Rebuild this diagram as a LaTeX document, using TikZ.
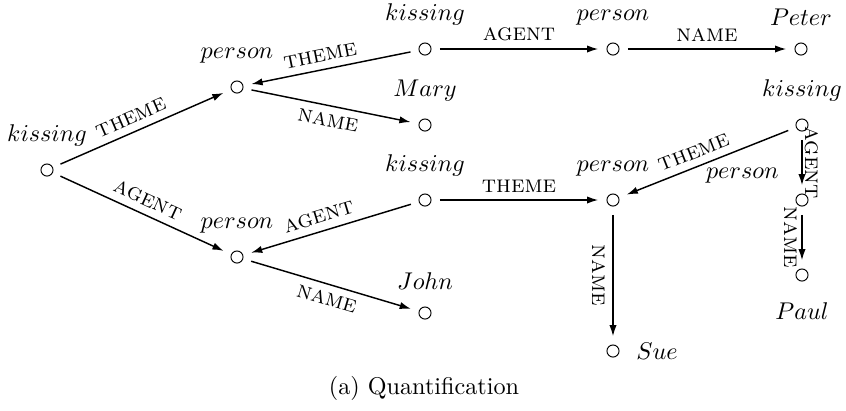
\documentclass[tikz,border=0pt]{standalone}
\usetikzlibrary{arrows.meta}
\begin{document}
\begin{tikzpicture}[x=0.4132pt,y=-0.4132pt,
  vtx/.style={draw,circle,line width=0.4pt,minimum size=5pt,inner sep=0pt,outer sep=3.6pt},
  edge/.style={line width=0.6pt,-{Latex[length=4.6pt,width=3pt]}},
  rel/.style={font=\normalsize,inner sep=3pt}]
\useasboundingbox (0,0) rectangle (846,410);
\node[vtx,label=above:$kissing$] (k1) at (47,170) {};
\node[vtx,label=above:$person$] (p1) at (237,87) {};
\node[vtx,label=above:$person$] (p3) at (237,257) {};
\node[vtx,label=above:$kissing$] (k2) at (425,49) {};
\node[vtx,label=above:$Mary$] (mary) at (425,125) {};
\node[vtx,label=above:$kissing$] (k3) at (425,200) {};
\node[vtx,label=above:$John$] (john) at (425,313) {};
\node[vtx,label=above:$person$] (p2) at (613,49) {};
\node[vtx,label=above:$Peter$] (peter) at (801,49) {};
\node[vtx,label=above:$kissing$] (k4) at (802,125) {};
\node[vtx,label=above:$person$] (p4) at (613,200) {};
\node[vtx,label={[yshift=10pt]left:$person$}] (p5) at (802,200) {};
\node[vtx,label={[yshift=-2pt]below:$Paul$}] (paul) at (802,275) {};
\node[vtx,label=right:$Sue$] (sue) at (613,351) {};
\node (cap) at (424,388) {(a) Quantification};

\draw[edge] (k1) -- node[rel,sloped,above,pos=0.47] {\textsc{theme}} (p1);
\draw[edge] (k1) -- node[rel,sloped,above,pos=0.5] {\textsc{agent}} (p3);
\draw[edge] (k2) -- node[rel,sloped,above,pos=0.55] {\textsc{theme}} (p1);
\draw[edge] (p1) -- node[rel,sloped,below] {\textsc{name}} (mary);
\draw[edge] (k2) -- node[rel,above] {\textsc{agent}} (p2);
\draw[edge] (p2) -- node[rel,above] {\textsc{name}} (peter);
\draw[edge] (k3) -- node[rel,sloped,above,pos=0.55] {\textsc{agent}} (p3);
\draw[edge] (p3) -- node[rel,sloped,below] {\textsc{name}} (john);
\draw[edge] (k3) -- node[rel,above] {\textsc{theme}} (p4);
\draw[edge] (k4) -- node[rel,sloped,above,pos=0.55] {\textsc{theme}} (p4);
\draw[edge] (p4) -- node[rel,midway,rotate=-90,anchor=north] {\textsc{name}} (sue);
\draw[edge] (k4) -- node[rel,midway,rotate=-90,anchor=south,inner sep=1pt] {\textsc{agent}} (p5);
\draw[edge] (p5) -- node[rel,midway,rotate=-90,anchor=north,inner sep=1.5pt] {\textsc{name}} (paul);
\end{tikzpicture}
\end{document}
